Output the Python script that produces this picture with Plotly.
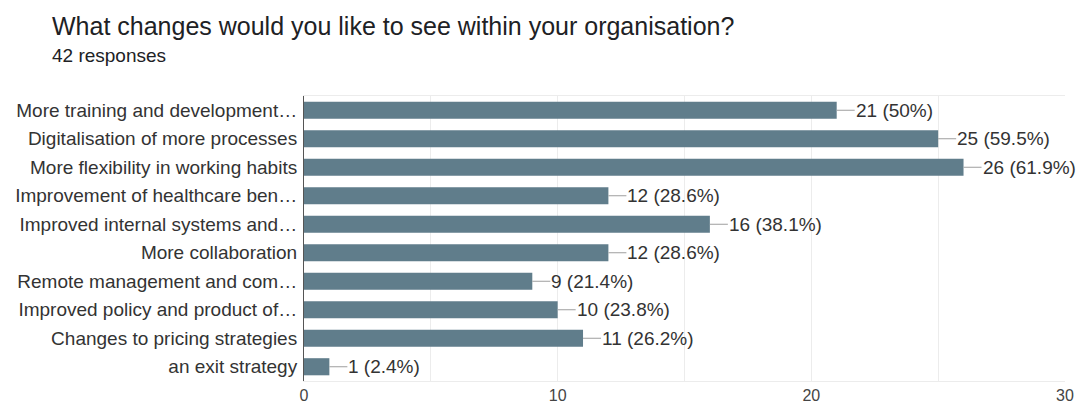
import plotly.graph_objects as go

# Survey answers (labels as shown on the axis) and response counts
categories = [
    "More training and development…",
    "Digitalisation of more processes",
    "More flexibility in working habits",
    "Improvement of healthcare ben…",
    "Improved internal systems and…",
    "More collaboration",
    "Remote management and com…",
    "Improved policy and product of…",
    "Changes to pricing strategies",
    "an exit strategy",
]
counts = [21, 25, 26, 12, 16, 12, 9, 10, 11, 1]
percent_labels = ["50%", "59.5%", "61.9%", "28.6%", "38.1%", "28.6%", "21.4%", "23.8%", "26.2%", "2.4%"]
x_ticks = [0, 10, 20, 30]

FONT = "Liberation Sans, Arial, sans-serif"
BAR = "#607d8b"
L, R, T, B = 304, 14, 96, 24
PLOT_W = 1079 - L - R

fig = go.Figure(
    go.Bar(
        x=counts,
        y=categories,
        orientation="h",
        marker=dict(color=BAR, line=dict(width=0)),
        hoverinfo="skip",
    )
)

# value labels joined to each bar end by a short leader line
for cat, n, pct in zip(categories, counts, percent_labels):
    fig.add_annotation(
        x=n, y=cat, xref="x", yref="y",
        text=f"{n} ({pct})",
        showarrow=True, arrowhead=0, arrowwidth=1, arrowcolor="#9e9e9e",
        ax=18, ay=0, xanchor="left", standoff=0, borderpad=0,
        font=dict(family=FONT, size=19, color="#333333"),
    )

fig.update_layout(
    width=1079, height=405,
    margin=dict(l=L, r=R, t=T, b=B),
    paper_bgcolor="white", plot_bgcolor="white",
    bargap=0.4,
    showlegend=False,
    font=dict(family=FONT, color="#333333"),
    xaxis=dict(
        range=[0, 30], tickvals=x_ticks, ticks="",
        showgrid=True, gridcolor="#ececec", gridwidth=1,
        minor=dict(dtick=5, showgrid=True, gridcolor="#ececec", gridwidth=1),
        showline=True, linecolor="#ececec", mirror=True,
        zeroline=False, automargin=False, ticklabelstandoff=0,
        tickfont=dict(family=FONT, size=16, color="#444444"),
        fixedrange=True,
    ),
    yaxis=dict(
        autorange="reversed", automargin=False,
        showline=True, linecolor="#555555", linewidth=1,
        ticks="", ticklabelstandoff=2,
        tickfont=dict(family=FONT, size=19, color="#333333"),
        fixedrange=True,
    ),
)

fig.add_annotation(
    text="What changes would you like to see within your organisation?",
    xref="paper", yref="paper", x=(50 - L) / PLOT_W, y=1,
    yshift=70, xanchor="left", yanchor="middle", showarrow=False,
    font=dict(family=FONT, size=25, color="#202124"),
)
fig.add_annotation(
    text="42 responses",
    xref="paper", yref="paper", x=(50 - L) / PLOT_W, y=1,
    yshift=41, xanchor="left", yanchor="middle", showarrow=False,
    font=dict(family=FONT, size=19, color="#202124"),
)

fig.write_html("out.html")
